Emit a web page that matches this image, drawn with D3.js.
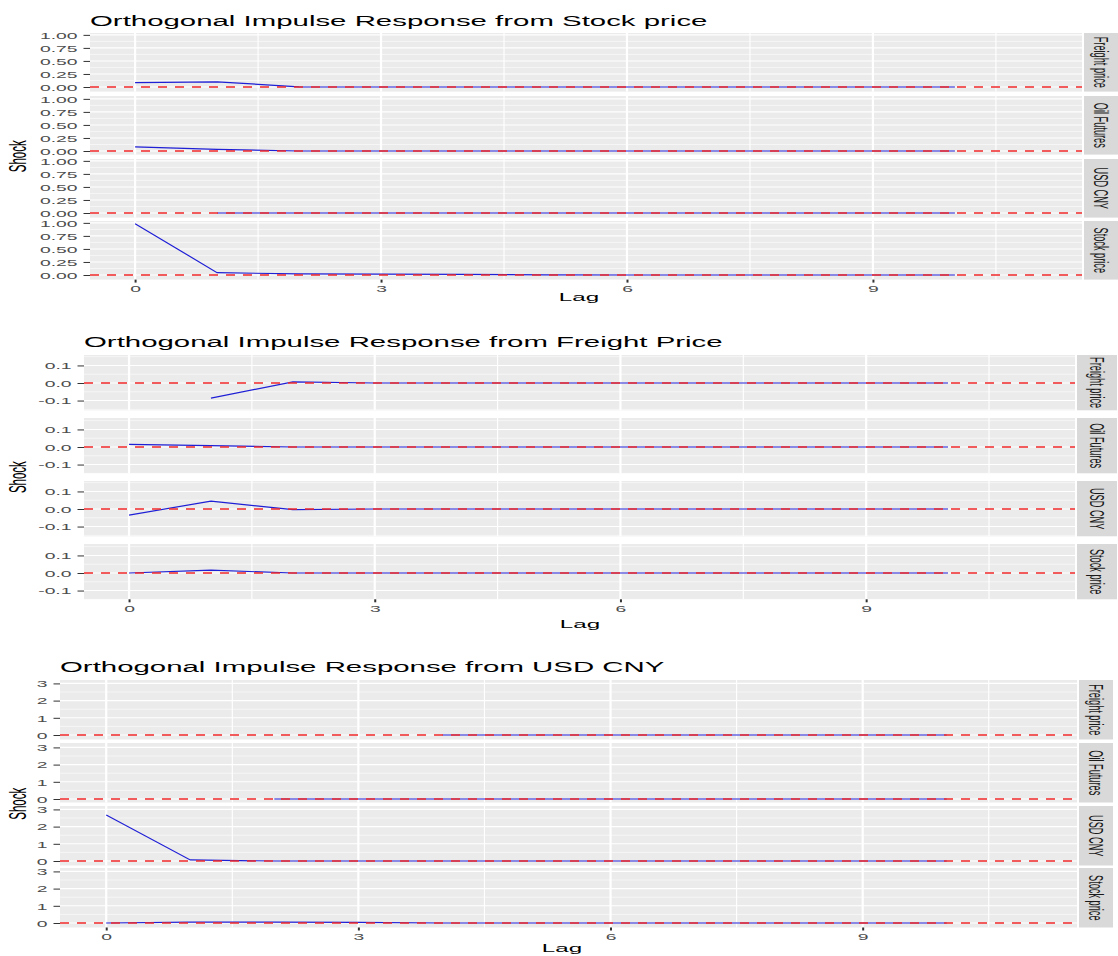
<!DOCTYPE html>
<html><head><meta charset="utf-8">
<script src="https://cdn.jsdelivr.net/npm/d3@7"></script>
<style>
html,body{margin:0;padding:0;background:#fff;}
svg{display:block;font-family:"Liberation Sans",Arial,Helvetica,sans-serif;}
</style>
</head><body>
<svg id="c" width="1118" height="956"></svg>
<script>
// ---------------- data ----------------
const panelNames = ["Freight price", "Oil Futures", "USD CNY", "Stock price"];
const lags = [0, 1, 2, 3, 4, 5, 6, 7, 8, 9, 10];
const xTicks = [0, 3, 6, 9];
const xLabels = ["0", "3", "6", "9"];

const titles = [
  "Orthogonal Impulse Response from Stock price",
  "Orthogonal Impulse Response from Freight Price",
  "Orthogonal Impulse Response from USD CNY"
];

// responses to a Stock price shock (null = outside plotted range)
const stockToFreight = [0.085, 0.100, 0.004, 0, 0, 0, 0, 0, 0, 0, 0];
const stockToOil     = [0.080, 0.030, 0.000, 0, 0, 0, 0, 0, 0, 0, 0];
const stockToUsd     = [null, 0.000, 0.000, 0, 0, 0, 0, 0, 0, 0, 0];
const stockToStock   = [0.985, 0.045, 0.020, 0.015, 0.012, 0.002, 0, 0, 0, 0, 0];

// responses to a Freight price shock
const freightToFreight = [null, -0.086, 0.006, 0, 0, 0, 0, 0, 0, 0, 0];
const freightToOil     = [0.015, 0.008, 0.000, 0, 0, 0, 0, 0, 0, 0, 0];
const freightToUsd     = [-0.035, 0.045, -0.004, 0, 0, 0, 0, 0, 0, 0, 0];
const freightToStock   = [0.000, 0.016, 0.000, 0, 0, 0, 0, 0, 0, 0, 0];

// responses to a USD CNY shock
const usdToFreight = [null, null, null, null, 0, 0, 0, 0, 0, 0, 0];
const usdToOil     = [null, null, 0, 0, 0, 0, 0, 0, 0, 0, 0];
const usdToUsd     = [2.67, 0.06, 0.00, 0, 0, 0, 0, 0, 0, 0, 0];
const usdToStock   = [0.00, 0.05, 0.05, 0.04, 0.00, 0, 0, 0, 0, 0, 0];

const yTicksStock = [0, 0.25, 0.5, 0.75, 1];
const yLabelsStock = ["0.00", "0.25", "0.50", "0.75", "1.00"];
const yTicksFreight = [-0.1, 0, 0.1];
const yLabelsFreight = ["-0.1", "0.0", "0.1"];
const yTicksUsd = [0, 1, 2, 3];
const yLabelsUsd = ["0", "1", "2", "3"];

// ---------------- layout / style ----------------
const SX = 2.1;            // horizontal stretch of the picture's text
const xDomain = [-0.55, 11.55];
const BLUE = "#1f1fd6", RED = "#f02828";

const plots = [
  { title: titles[0], series: [stockToFreight, stockToOil, stockToUsd, stockToStock],
    yTicks: yTicksStock, yLabels: yLabelsStock, yDomain: [-0.072, 1.052],
    left: 90, right: 1082, stripRight: 1118, top: 33, h: 58.6, gap: 4.2,
    titleY: 25.5, lagX: 579, lagY: 301 },
  { title: titles[1], series: [freightToFreight, freightToOil, freightToUsd, freightToStock],
    yTicks: yTicksFreight, yLabels: yLabelsFreight, yDomain: [-0.153, 0.162],
    left: 84, right: 1075, stripRight: 1117, top: 355, h: 55.3, gap: 7.7,
    titleY: 347, lagX: 580, lagY: 628 },
  { title: titles[2], series: [usdToFreight, usdToOil, usdToUsd, usdToStock],
    yTicks: yTicksUsd, yLabels: yLabelsUsd, yDomain: [-0.22, 3.24],
    left: 60, right: 1077, stripRight: 1113, top: 680, h: 59.5, gap: 3.3,
    titleY: 672, lagX: 562, lagY: 952 }
];

function minorOf(ticks, domain) {
  const step = ticks[1] - ticks[0], res = [];
  for (let v = ticks[0] - step / 2; v <= ticks[ticks.length - 1] + step / 2 + 1e-9; v += step)
    if (v >= domain[0] && v <= domain[1]) res.push(v);
  return res;
}

const svg = d3.select("#c");
svg.append("rect").attr("width", 1118).attr("height", 956).attr("fill", "#fff");

plots.forEach((p, pi) => {
  const g = svg.append("g");
  const x = d3.scaleLinear().domain(xDomain).range([p.left, p.right]);
  const xMinor = minorOf(xTicks, xDomain);
  const yMinor = minorOf(p.yTicks, p.yDomain);

  // title
  g.append("text")
    .attr("transform", `translate(${p.left},${p.titleY}) scale(${SX},1)`)
    .attr("font-size", 14).attr("fill", "#000")
    .text(p.title);

  let lastBottom = 0;
  panelNames.forEach((name, i) => {
    const top = Math.round(p.top + i * (p.h + p.gap));
    lastBottom = top + p.h;
    // put the zero line on an odd pixel row so it renders as a solid band
    const y = d3.scaleLinear().domain(p.yDomain).range([p.h, 0]);
    const zAbs = top + y(0);
    let target = Math.round(zAbs);
    if (target % 2 === 0) target += (zAbs > target ? 1 : -1);
    const shift = target - zAbs;
    y.range([p.h + shift, shift]);

    const line = d3.line()
      .defined(d => d[1] !== null)
      .x(d => x(d[0])).y(d => y(d[1]));

    const pg = g.append("g").attr("transform", `translate(0,${top})`);
    const clipId = `clip-${pi}-${i}`;
    pg.append("clipPath").attr("id", clipId)
      .append("rect").attr("x", p.left).attr("y", 0)
      .attr("width", p.right - p.left).attr("height", p.h);

    pg.append("rect").attr("x", p.left).attr("y", 0)
      .attr("width", p.right - p.left).attr("height", p.h).attr("fill", "#EBEBEB");

    // minor grid
    pg.selectAll(null).data(yMinor).join("line")
      .attr("x1", p.left).attr("x2", p.right)
      .attr("y1", d => y(d)).attr("y2", d => y(d))
      .attr("stroke", "#fff").attr("stroke-width", 0.55);
    pg.selectAll(null).data(xMinor).join("line")
      .attr("x1", d => x(d)).attr("x2", d => x(d))
      .attr("y1", 0).attr("y2", p.h)
      .attr("stroke", "#fff").attr("stroke-width", 1.15);
    // major grid
    pg.selectAll(null).data(p.yTicks).join("line")
      .attr("x1", p.left).attr("x2", p.right)
      .attr("y1", d => y(d)).attr("y2", d => y(d))
      .attr("stroke", "#fff").attr("stroke-width", 1.1);
    pg.selectAll(null).data(xTicks).join("line")
      .attr("x1", d => x(d)).attr("x2", d => x(d))
      .attr("y1", 0).attr("y2", p.h)
      .attr("stroke", "#fff").attr("stroke-width", 2.2);

    // response line
    const pts = lags.map((l, k) => [l, p.series[i][k]]);
    pg.append("path").datum(pts)
      .attr("clip-path", `url(#${clipId})`)
      .attr("d", line).attr("fill", "none")
      .attr("stroke", BLUE).attr("stroke-width", 1.2);

    // zero reference line (dashed, on top)
    pg.append("line")
      .attr("x1", p.left).attr("x2", p.right)
      .attr("y1", y(0)).attr("y2", y(0))
      .attr("stroke", RED).attr("stroke-width", 1.6)
      .attr("stroke-dasharray", "9,8");

    // strip
    const sx0 = p.right + 2;
    pg.append("rect").attr("x", sx0).attr("y", 0)
      .attr("width", p.stripRight - sx0).attr("height", p.h).attr("fill", "#D9D9D9");
    pg.append("text")
      .attr("transform", `translate(${(sx0 + p.stripRight) / 2},${p.h / 2}) scale(${SX},1) rotate(90)`)
      .attr("text-anchor", "middle").attr("dominant-baseline", "central")
      .attr("font-size", 9.2).attr("fill", "#1A1A1A")
      .text(name);

    // y axis
    const ax = d3.axisLeft(y).tickValues(p.yTicks)
      .tickFormat((d, k) => p.yLabels[k]).tickSize(6.5).tickPadding(6);
    const ag = pg.append("g").attr("transform", `translate(${p.left},0)`).call(ax);
    ag.select(".domain").remove();
    ag.selectAll(".tick line").attr("stroke", "#333").attr("stroke-width", 1);
    ag.selectAll(".tick text")
      .attr("x", null).attr("dy", null)
      .attr("transform", `translate(-12.5,0) scale(${SX},1)`)
      .attr("dominant-baseline", "central")
      .attr("font-size", 9.2).attr("fill", "#4D4D4D")
      .attr("font-family", null);
  });

  // x axis under last panel
  const xa = d3.axisBottom(x).tickValues(xTicks)
    .tickFormat((d, k) => xLabels[k]).tickSize(3).tickPadding(2.5);
  const xg = g.append("g").attr("transform", `translate(0,${lastBottom})`).call(xa);
  xg.select(".domain").remove();
  xg.selectAll(".tick line").attr("stroke", "#333").attr("stroke-width", 2);
  xg.selectAll(".tick text")
    .attr("y", null).attr("dy", null)
    .attr("transform", `translate(0,12.5) scale(${SX},1)`)
    .attr("font-size", 9.2).attr("fill", "#4D4D4D")
    .attr("font-family", null);

  // axis titles
  g.append("text")
    .attr("transform", `translate(${p.lagX},${p.lagY}) scale(${SX},1)`)
    .attr("text-anchor", "middle").attr("font-size", 11.5).attr("fill", "#000")
    .text("Lag");
  g.append("text")
    .attr("transform", `translate(18,${(p.top + lastBottom) / 2}) scale(${SX},1) rotate(-90)`)
    .attr("text-anchor", "middle").attr("dominant-baseline", "central")
    .attr("font-size", 11.5).attr("fill", "#000")
    .text("Shock");
});
</script>
</body></html>
